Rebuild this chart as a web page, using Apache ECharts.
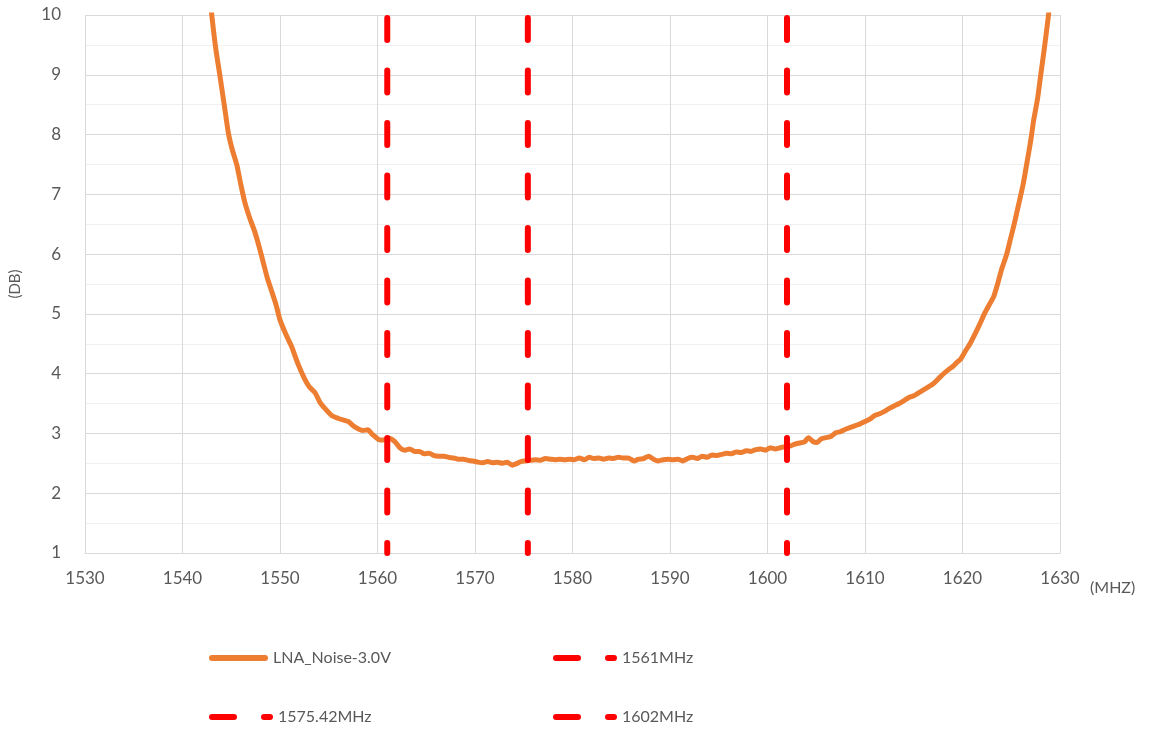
<!DOCTYPE html>
<html>
<head>
<meta charset="utf-8">
<script src="https://cdn.jsdelivr.net/npm/echarts@6/dist/echarts.min.js"></script>
<style>
html,body{margin:0;padding:0;background:#fff;}
#chart{width:1154px;height:731px;}
</style>
</head>
<body>
<div id="chart"></div>
<script>
// Frequency (MHz) of each measured point
const freqMHz = [
1542.6,1543.0,1543.4,1543.85,1544.36,1544.7,1545.1,1545.56,1546.0,1546.4,1546.9,1547.4,1547.9,1548.3,1548.7,1549.1,1549.6,1550.0,1550.6,1551.2,1551.8,1552.5,1553.0,1553.6,1554.1,1554.6,1555.3,1556.0,1556.6,1557.0,1557.5,1558.0,1558.5,1559.0,1559.5,1560.1,1560.6,1561.2,1561.8,1562.3,1562.8,1563.3,1563.8,1564.3,1564.8,1565.3,1565.8,1566.3,1566.8,1567.3,1567.8,1568.3,1568.8,1569.3,1569.8,1570.3,1570.8,1571.3,1571.8,1572.3,1572.8,1573.3,1573.8,1574.2,1574.7,1575.2,1575.7,1576.2,1576.7,1577.2,1577.7,1578.2,1578.7,1579.2,1579.7,1580.2,1580.7,1581.2,1581.7,1582.2,1582.7,1583.2,1583.7,1584.2,1584.7,1585.2,1585.7,1586.3,1586.8,1587.3,1587.8,1588.3,1588.8,1589.3,1589.8,1590.3,1590.8,1591.3,1591.8,1592.3,1592.8,1593.3,1593.8,1594.3,1594.8,1595.3,1595.8,1596.3,1596.8,1597.3,1597.8,1598.3,1598.8,1599.3,1599.8,1600.3,1600.8,1601.3,1601.8,1602.3,1602.8,1603.3,1603.8,1604.2,1604.7,1605.1,1605.5,1606.0,1606.5,1607.0,1607.5,1608.0,1608.5,1609.0,1609.5,1610.0,1610.5,1611.0,1611.5,1612.0,1612.5,1613.0,1613.5,1614.0,1614.5,1615.0,1615.5,1616.0,1616.5,1617.0,1617.5,1618.0,1618.5,1619.0,1619.5,1619.8,1620.3,1620.8,1621.3,1621.8,1622.3,1622.8,1623.2,1623.6,1624.0,1624.5,1624.9,1625.3,1625.7,1626.2,1626.6,1627.0,1627.3,1627.7,1628.0,1628.4,1628.8,1629.1
];
// Noise figure (dB)
const noiseDB = [
10.6,10.0,9.45,8.97,8.41,8.03,7.75,7.5,7.15,6.86,6.6,6.38,6.1,5.85,5.6,5.40,5.15,4.90,4.66,4.45,4.18,3.92,3.78,3.68,3.52,3.42,3.30,3.25,3.22,3.20,3.13,3.08,3.05,3.06,2.98,2.90,2.89,2.92,2.86,2.76,2.72,2.74,2.70,2.70,2.66,2.67,2.63,2.62,2.62,2.60,2.59,2.57,2.57,2.55,2.54,2.52,2.51,2.53,2.51,2.52,2.50,2.52,2.47,2.49,2.53,2.54,2.55,2.56,2.55,2.58,2.57,2.56,2.57,2.56,2.57,2.56,2.59,2.56,2.60,2.58,2.59,2.57,2.59,2.58,2.60,2.59,2.59,2.54,2.57,2.58,2.62,2.57,2.54,2.56,2.57,2.56,2.57,2.54,2.58,2.60,2.58,2.62,2.60,2.64,2.63,2.65,2.67,2.66,2.69,2.68,2.71,2.70,2.73,2.74,2.72,2.76,2.74,2.76,2.78,2.79,2.82,2.84,2.86,2.93,2.86,2.85,2.91,2.93,2.95,3.01,3.03,3.07,3.10,3.13,3.16,3.20,3.24,3.30,3.33,3.37,3.42,3.46,3.50,3.55,3.60,3.63,3.68,3.73,3.78,3.83,3.91,3.99,4.06,4.12,4.20,4.24,4.38,4.51,4.67,4.84,5.02,5.17,5.29,5.50,5.74,5.98,6.24,6.50,6.79,7.15,7.52,7.90,8.24,8.60,8.97,9.45,9.97,10.4
];
const noiseName = 'LNA_Noise-3.0V';
const markerFreqs = [1561, 1575.42, 1602];
const markerNames = ['1561MHz', '1575.42MHz', '1602MHz'];
const xTicks = [1530, 1540, 1550, 1560, 1570, 1580, 1590, 1600, 1610, 1620, 1630];
const yTicks = [1, 2, 3, 4, 5, 6, 7, 8, 9, 10];

const FONT = 'Lato';
const TXT = '#595959';
const ORANGE = '#ED7D31';
const RED = '#FF0000';

const chart = echarts.init(document.getElementById('chart'), null, {renderer: 'canvas'});

const noisePts = freqMHz.map((f, i) => [f, noiseDB[i]]);

const series = [{
  name: noiseName,
  type: 'line',
  data: noisePts,
  symbol: 'none',
  smooth: 0.2,
  clip: true,
  itemStyle: {color: ORANGE},
  lineStyle: {color: ORANGE, width: 5, cap: 'round', join: 'round'},
  z: 2
}];
markerFreqs.forEach((f, i) => {
  series.push({
    name: markerNames[i],
    type: 'line',
    data: [[f, yTicks[yTicks.length - 1]], [f, yTicks[0]]],
    symbol: 'none',
    clip: false,
    itemStyle: {color: RED},
    lineStyle: {color: RED, width: 6, type: [22, 30.5], dashOffset: -3, cap: 'round'},
    z: 3
  });
});

const lineIcon = 'path://M3,0H56A3,3,0,0,1,56,6H3A3,3,0,0,1,3,0Z';
const dashIcon = 'path://M3,0H25A3,3,0,0,1,25,6H3A3,3,0,0,1,3,0Z M55,0H61A3,3,0,0,1,61,6H55A3,3,0,0,1,55,0Z';
const legendText = {color: TXT, fontSize: 16, fontFamily: FONT};
function mkLegend(name, icon, w, left, top) {
  return {
    data: [{name: name, icon: icon}],
    left: left, top: top,
    itemWidth: w, itemHeight: 6,
    padding: 0,
    selectedMode: false,
    textStyle: legendText
  };
}

const option = {
  backgroundColor: '#ffffff',
  animation: false,
  grid: {left: 83, right: 94, top: 15, bottom: 178, containLabel: false},
  xAxis: {
    type: 'value',
    min: xTicks[0], max: xTicks[xTicks.length - 1], interval: 10,
    name: '(MHZ)', nameLocation: 'end', nameGap: 30,
    nameTextStyle: {color: TXT, fontSize: 16, fontFamily: FONT, verticalAlign: 'top', padding: [27, 0, 0, 0]},
    axisLine: {show: true, lineStyle: {color: '#d9d9d9', width: 1}},
    axisTick: {show: false},
    axisLabel: {color: TXT, fontSize: 17, fontFamily: FONT, margin: 17, formatter: v => String(v)},
    splitLine: {show: true, lineStyle: {color: '#d9d9d9', width: 1}}
  },
  yAxis: {
    type: 'value',
    min: yTicks[0], max: yTicks[yTicks.length - 1], interval: 1,
    name: '(DB)', nameLocation: 'middle', nameGap: 62, nameRotate: 90,
    nameTextStyle: {color: TXT, fontSize: 15, fontFamily: FONT},
    axisLine: {show: false},
    axisTick: {show: false},
    axisLabel: {color: TXT, fontSize: 17, fontFamily: FONT, margin: 24, formatter: v => String(v)},
    splitLine: {show: true, lineStyle: {color: '#d9d9d9', width: 1}},
    minorTick: {show: false, splitNumber: 2},
    minorSplitLine: {show: true, lineStyle: {color: '#f0f0f0', width: 1}}
  },
  legend: [
    mkLegend(noiseName, lineIcon, 59, 209, 650),
    mkLegend(markerNames[0], dashIcon, 64, 553, 650),
    mkLegend(markerNames[1], dashIcon, 64, 209, 709),
    mkLegend(markerNames[2], dashIcon, 64, 553, 709)
  ],
  series: series
};
chart.setOption(option);
</script>
</body>
</html>
